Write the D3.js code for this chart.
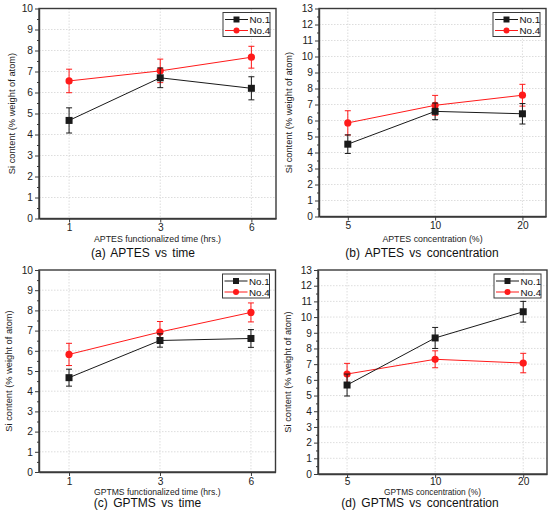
<!DOCTYPE html>
<html>
<head>
<meta charset="utf-8">
<script src="https://cdn.jsdelivr.net/npm/d3@7/dist/d3.min.js"></script>
<style>
  html, body { margin: 0; padding: 0; background: #fff; }
  svg { display: block; font-family: "Liberation Sans", Arial, sans-serif; }
</style>
</head>
<body>
<svg id="chart" width="550" height="510"></svg>
<script>
// ---- Data ----
const timeLabels = ["1", "3", "6"];
const concLabels = ["5", "10", "20"];
const seriesNames = ["No.1", "No.4"];

// (a) APTES vs time
const aNo1 = [4.67, 6.70, 6.20];
const aNo1Err = [0.60, 0.47, 0.55];
const aNo4 = [6.55, 7.03, 7.68];
const aNo4Err = [0.56, 0.56, 0.52];

// (b) APTES vs concentration
const bNo1 = [4.52, 6.57, 6.42];
const bNo1Err = [0.58, 0.52, 0.64];
const bNo4 = [5.85, 6.95, 7.58];
const bNo4Err = [0.76, 0.62, 0.68];

// (c) GPTMS vs time
const cNo1 = [4.67, 6.51, 6.61];
const cNo1Err = [0.42, 0.33, 0.44];
const cNo4 = [5.82, 6.93, 7.90];
const cNo4Err = [0.55, 0.52, 0.47];

// (d) GPTMS vs concentration
const dNo1 = [5.67, 8.67, 10.34];
const dNo1Err = [0.70, 0.67, 0.66];
const dNo4 = [6.37, 7.31, 7.07];
const dNo4Err = [0.68, 0.54, 0.62];

const yMaxTime = 10;
const yMaxConc = 13;

const xTitles = ["APTES functionalized time (hrs.)", "APTES concentration (%)",
                 "GPTMS functionalized time (hrs.)", "GPTMS concentration (%)"];
const captions = ["(a) APTES vs time", "(b) APTES vs concentration",
                  "(c) GPTMS vs time", "(d) GPTMS vs concentration"];
const yTitle = "Si content (% weight of atom)";

// ---- Layout ----
const panels = [
  { left: 39, right: 276, top: 8.5, bottom: 218.5, labels: timeLabels, ymax: yMaxTime,
    s1: aNo1, e1: aNo1Err, s4: aNo4, e4: aNo4Err, xt: xTitles[0], cap: captions[0],
    ytX: 12, xtY: 242, xtSize: 8.8, capX: 143, capY: 257, tickPad: 1.5 },
  { left: 319, right: 546, top: 8.5, bottom: 216.5, labels: concLabels, ymax: yMaxConc,
    s1: bNo1, e1: bNo1Err, s4: bNo4, e4: bNo4Err, xt: xTitles[1], cap: captions[1],
    ytX: 289, xtY: 242, xtSize: 8.8, capX: 422, capY: 257, tickPad: 1.5 },
  { left: 39, right: 275.5, top: 270, bottom: 472, labels: timeLabels, ymax: yMaxTime,
    s1: cNo1, e1: cNo1Err, s4: cNo4, e4: cNo4Err, xt: xTitles[2], cap: captions[2],
    ytX: 9, xtY: 494.5, xtSize: 8.6, capX: 147.5, capY: 507, tickPad: 1.5 },
  { left: 318, right: 547, top: 270, bottom: 474, labels: concLabels, ymax: yMaxConc,
    s1: dNo1, e1: dNo1Err, s4: dNo4, e4: dNo4Err, xt: xTitles[3], cap: captions[3],
    ytX: 288, xtY: 495, xtSize: 8.3, capX: 420, capY: 507, tickPad: -0.5 }
];

const svg = d3.select("#chart");
const axisColor = "#3a3a3a";
const black = "#1a1a1a";
const red = "#ff1a1a";

panels.forEach(p => {
  const g = svg.append("g");
  const x = d3.scaleLinear().domain([-0.33, 2.27]).range([p.left, p.right]);
  const y = d3.scaleLinear().domain([0, p.ymax]).range([p.bottom, p.top]);
  const idx = d3.range(p.labels.length);

  // grid
  const grid = g.append("g").attr("stroke", "#d4d4d4").attr("stroke-width", 0.8)
    .attr("stroke-dasharray", "1.5,1.5");
  grid.selectAll("line.h").data(d3.range(1, p.ymax)).join("line")
    .attr("x1", p.left).attr("x2", p.right)
    .attr("y1", d => y(d)).attr("y2", d => y(d));
  grid.selectAll("line.v").data(idx).join("line")
    .attr("x1", d => x(d)).attr("x2", d => x(d))
    .attr("y1", p.top).attr("y2", p.bottom);

  // frame
  g.append("rect").attr("x", p.left).attr("y", p.top)
    .attr("width", p.right - p.left).attr("height", p.bottom - p.top)
    .attr("fill", "none").attr("stroke", axisColor).attr("stroke-width", 1.4);

  // y axis
  g.append("g").attr("transform", `translate(${p.left},0)`)
    .call(d3.axisLeft(y).tickValues(d3.range(0, p.ymax + 1)).tickSize(4).tickSizeOuter(0).tickPadding(2));
  g.append("g").attr("transform", `translate(${p.left},0)`)
    .call(d3.axisLeft(y).tickValues(d3.range(0.5, p.ymax, 1)).tickSize(2).tickSizeOuter(0).tickFormat(""))
    .select(".domain").remove();
  // x axis
  g.append("g").attr("transform", `translate(0,${p.bottom})`)
    .call(d3.axisBottom(x).tickValues(idx).tickFormat(i => p.labels[i]).tickSize(4).tickSizeOuter(0).tickPadding(p.tickPad));
  g.selectAll(".domain").attr("stroke", axisColor).attr("stroke-width", 1.4);
  g.selectAll(".tick line").attr("stroke", axisColor).attr("stroke-width", 1);
  g.selectAll(".tick text").attr("fill", "#222").style("font-size", "10.2px")
    .style("font-family", "'Liberation Sans', Arial, sans-serif");

  // axis titles
  g.append("text").attr("x", (p.left + p.right) / 2).attr("y", p.xtY)
    .attr("text-anchor", "middle").style("font-size", p.xtSize + "px").attr("fill", "#222")
    .text(p.xt);
  g.append("text")
    .attr("transform", `translate(${p.ytX},${(p.top + p.bottom) / 2}) rotate(-90)`)
    .attr("text-anchor", "middle").attr("dy", "0.35em").style("font-size", "9.3px").attr("fill", "#222")
    .text(yTitle);
  // caption
  g.append("text").attr("x", p.capX).attr("y", p.capY)
    .attr("text-anchor", "middle").style("font-size", "12px").attr("fill", "#111")
    .attr("word-spacing", "2px")
    .text(p.cap);

  // series
  const series = [
    { vals: p.s4, errs: p.e4, color: red, shape: "circle", lw: 1 },
    { vals: p.s1, errs: p.e1, color: black, shape: "square", lw: 1 }
  ];
  const line = d3.line().x((d, i) => x(i)).y(d => y(d));
  series.forEach(s => {
    const sg = g.append("g");
    sg.append("path").datum(s.vals).attr("d", line)
      .attr("fill", "none").attr("stroke", s.color).attr("stroke-width", s.lw);
    const eb = sg.append("g").attr("stroke", s.color).attr("stroke-width", 1);
    eb.selectAll("line.v").data(s.vals).join("line")
      .attr("x1", (d, i) => x(i)).attr("x2", (d, i) => x(i))
      .attr("y1", (d, i) => y(d - s.errs[i])).attr("y2", (d, i) => y(d + s.errs[i]));
    eb.selectAll("line.t").data(s.vals).join("line")
      .attr("x1", (d, i) => x(i) - 3).attr("x2", (d, i) => x(i) + 3)
      .attr("y1", (d, i) => y(d + s.errs[i])).attr("y2", (d, i) => y(d + s.errs[i]));
    eb.selectAll("line.b").data(s.vals).join("line")
      .attr("x1", (d, i) => x(i) - 3).attr("x2", (d, i) => x(i) + 3)
      .attr("y1", (d, i) => y(d - s.errs[i])).attr("y2", (d, i) => y(d - s.errs[i]));
    if (s.shape === "circle") {
      sg.selectAll("circle").data(s.vals).join("circle")
        .attr("cx", (d, i) => x(i)).attr("cy", d => y(d)).attr("r", 3.6).attr("fill", s.color);
    } else {
      sg.selectAll("rect").data(s.vals).join("rect")
        .attr("x", (d, i) => x(i) - 3.5).attr("y", d => y(d) - 3.5)
        .attr("width", 7).attr("height", 7).attr("fill", s.color);
    }
  });

  // legend
  const lw = 47, lh = 24;
  const lx = p.right - 6 - lw, ly = p.top + 4;
  const lg = g.append("g").attr("transform", `translate(${lx},${ly})`);
  lg.append("rect").attr("width", lw).attr("height", lh).attr("fill", "#fff")
    .attr("stroke", axisColor).attr("stroke-width", 1);
  const entries = [
    { name: seriesNames[0], color: black, shape: "square", yy: 7 },
    { name: seriesNames[1], color: red, shape: "circle", yy: 18 }
  ];
  entries.forEach(e => {
    lg.append("line").attr("x1", 2).attr("x2", 25).attr("y1", e.yy).attr("y2", e.yy)
      .attr("stroke", e.color).attr("stroke-width", 1);
    if (e.shape === "circle") {
      lg.append("circle").attr("cx", 13.5).attr("cy", e.yy).attr("r", 3).attr("fill", e.color);
    } else {
      lg.append("rect").attr("x", 10.5).attr("y", e.yy - 3).attr("width", 6).attr("height", 6).attr("fill", e.color);
    }
    lg.append("text").attr("x", 26.5).attr("y", e.yy).attr("dy", "0.36em")
      .style("font-size", "9.8px").attr("fill", "#111").text(e.name);
  });
});
</script>
</body>
</html>
